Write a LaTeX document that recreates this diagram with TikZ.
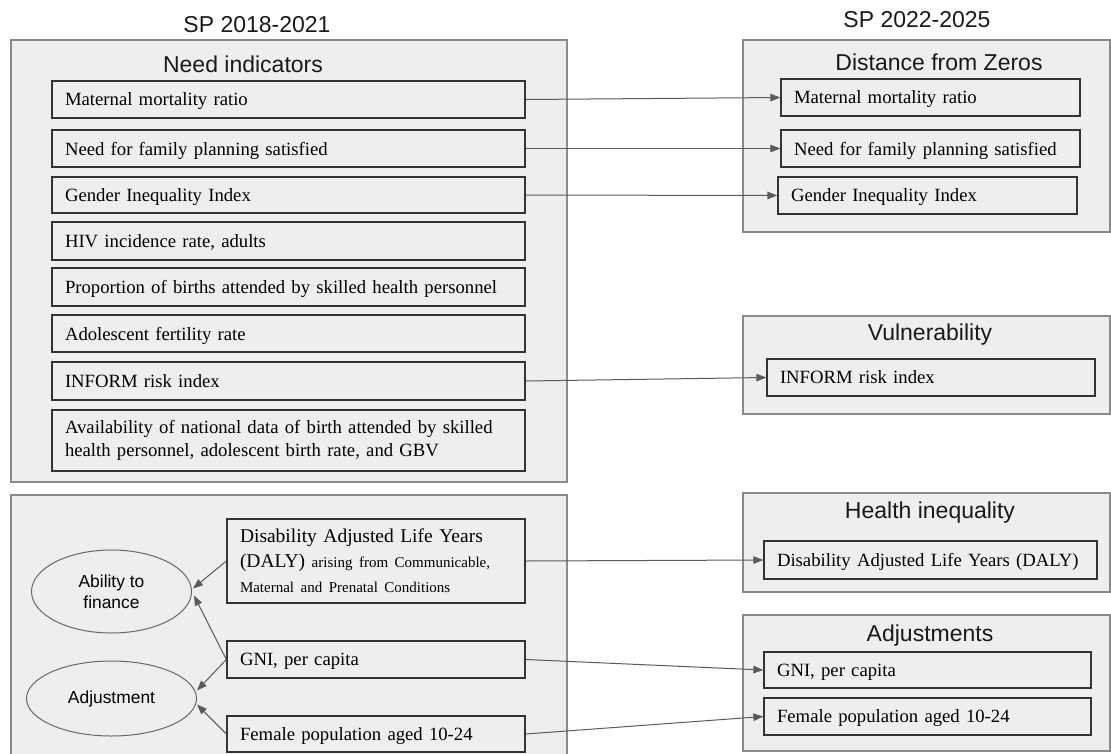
\documentclass[tikz,border=0pt]{standalone}
\usepackage{fontspec}
\setmainfont{Liberation Serif}
\setsansfont{Liberation Sans}
\usetikzlibrary{arrows.meta,shapes.geometric}
\definecolor{bg}{HTML}{EEEEEE}
\definecolor{outerline}{HTML}{8A8A8A}
\definecolor{innerline}{HTML}{333333}
\definecolor{arrowc}{HTML}{5A5A5A}
\begin{document}
\begin{tikzpicture}[x=1pt,y=-1pt,
 outer/.style={draw=outerline, fill=bg, line width=1.2pt},
 ibox/.style={draw=innerline, fill=bg, line width=1.3pt, rectangle, inner xsep=13pt, inner ysep=0pt, align=left, font=\fontsize{18.7}{23.5}\selectfont},
 one/.style={ibox, text depth=0pt},
 grp/.style={font=\sffamily\fontsize{23}{27}\selectfont, text=black!90},
 ell/.style={ellipse, draw=outerline!75!black, fill=bg, line width=1pt, inner sep=0pt, align=center, font=\sffamily\fontsize{17.4}{21}\selectfont},
 arr/.style={draw=arrowc, line width=1pt, -{Triangle[length=10pt,width=7.5pt]}}
]
\useasboundingbox (0,0) rectangle (1111,753);
% outer group boxes
\draw[outer] (11,40) rectangle (567,482);
\draw[outer] (11,495) rectangle (567,770);
\draw[outer] (743,40) rectangle (1110,232);
\draw[outer] (743,316) rectangle (1110,414);
\draw[outer] (743,493) rectangle (1110,592);
\draw[outer] (743,615) rectangle (1110,751);
% headings
\node[grp] (h1) at (257,25) {SP 2018-2021};
\node[grp] (h2) at (917,20) {SP 2022-2025};
\node[grp] (t1) at (243,64) {Need indicators};
\node[grp] (t2) at (939,62) {Distance from Zeros};
\node[grp] (t3) at (930,335) {Vulnerability};
\node[grp] (t4) at (930,513) {Health inequality};
\node[grp] (t5) at (930,636) {Adjustments};
% left need indicator boxes
\node[one, minimum height=37pt, text width=447pt] (m1) at (288.5,99.5) {Maternal mortality ratio};
\node[one, minimum height=37pt, text width=447pt] (m2) at (288.5,148.5) {Need for family planning satisfied};
\node[one, minimum height=36pt, text width=447pt] (m3) at (288.5,195) {Gender Inequality Index};
\node[one, minimum height=38pt, text width=447pt] (m4) at (288.5,241) {HIV incidence rate, adults};
\node[one, minimum height=38pt, text width=447pt] (m5) at (288.5,287) {Proportion of births attended by skilled health personnel};
\node[one, minimum height=37pt, text width=447pt] (m6) at (288.5,333.5) {Adolescent fertility rate};
\node[one, minimum height=38pt, text width=447pt] (m7) at (288.5,381) {INFORM risk index};
\node[ibox, minimum height=61pt, text width=447pt] (m8) at (288.5,440.5) {Availability of national data of birth attended by skilled\\health personnel, adolescent birth rate, and GBV};
% right boxes
\node[one, minimum height=37pt, text width=273pt] (r1) at (930.5,97.5) {Maternal mortality ratio};
\node[one, minimum height=37pt, text width=273pt] (r2) at (930.5,148.5) {Need for family planning satisfied};
\node[one, minimum height=37pt, text width=273pt] (r3) at (927.5,195.5) {Gender Inequality Index};
\node[one, minimum height=37pt, text width=302pt] (r4) at (931,377.5) {INFORM risk index};
\node[one, minimum height=38pt, text width=307pt] (r5) at (930.5,560) {Disability Adjusted Life Years (DALY)};
\node[one, minimum height=36pt, text width=301pt] (r6) at (927.5,670) {GNI, per capita};
\node[one, minimum height=37pt, text width=301pt] (r7) at (927.5,716.5) {Female population aged 10-24};
% bottom-left boxes
\node[ibox, minimum height=84pt, text width=272pt, font=\fontsize{19.5}{25}\selectfont] (d1) at (376,561) {Disability Adjusted Life Years\\(DALY) {\fontsize{15}{25}\selectfont arising from Communicable,}\\{\fontsize{15}{22}\selectfont Maternal and Prenatal Conditions}};
\node[one, minimum height=37pt, text width=272pt] (g1) at (376,659.5) {GNI, per capita};
\node[one, minimum height=36pt, text width=272pt] (f1) at (376,734) {Female population aged 10-24};
% ellipses
\node[ell, minimum width=160pt, minimum height=83pt] (a1) at (111.5,591.5) {Ability to\\finance};
\node[ell, minimum width=170pt, minimum height=75pt] (a2) at (111.5,698.5) {Adjustment};
% connectors
\draw[arr] (m1.east) -- (r1.west);
\draw[arr] (m2.east) -- (r2.west);
\draw[arr] (m3.east) -- (r3.west);
\draw[arr] (m7.east) -- (r4.west);
\draw[arr] (d1.east) -- (r5.west);
\draw[arr] (g1.east) -- (r6.west);
\draw[arr] (f1.east) -- (r7.west);
\draw[arr] (d1.west) -- ([xshift=1pt,yshift=3pt]a1.east);
\draw[arr] (g1.west) -- ([xshift=2pt,yshift=-4pt]a1.east);
\draw[arr] (g1.west) -- ([yshift=8pt]a2.east);
\draw[arr] (f1.west) -- ([yshift=-6pt]a2.east);
\end{tikzpicture}
\end{document}
